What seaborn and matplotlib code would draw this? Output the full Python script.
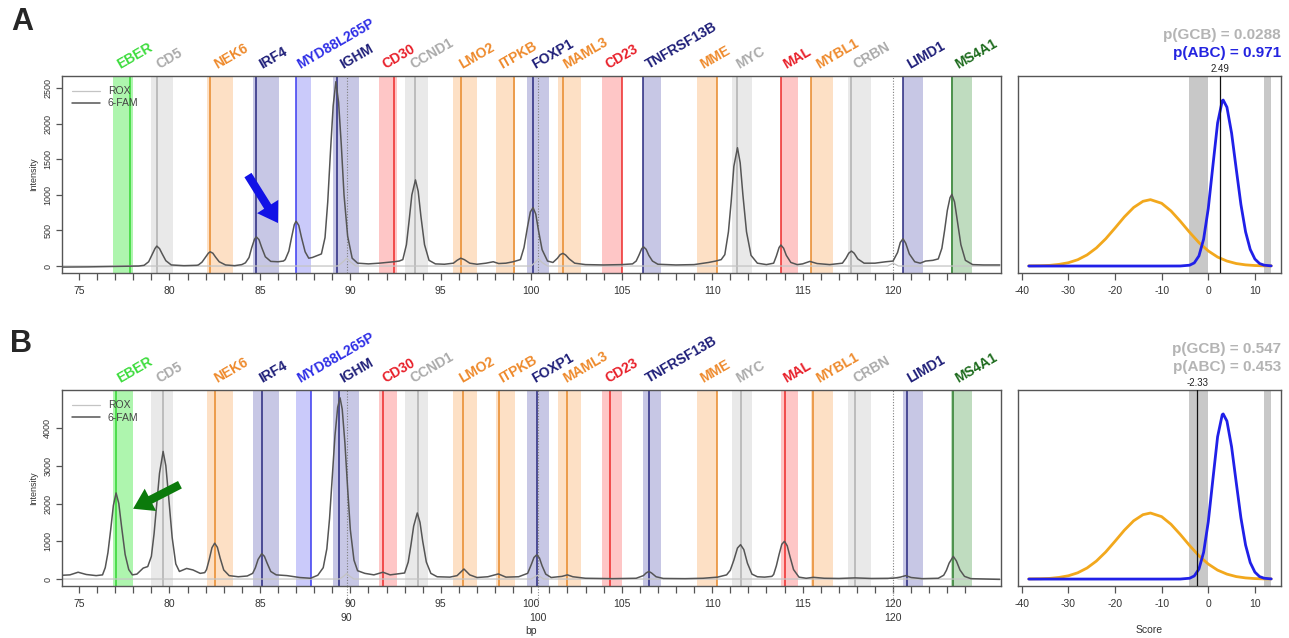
import matplotlib
matplotlib.use("Agg")
import matplotlib.pyplot as plt
import matplotlib.transforms as mtransforms
import pandas as pd
import seaborn as sns

sns.set_style("white")
plt.rcParams['font.family'] = ['Liberation Sans', 'DejaVu Sans']
plt.rcParams['axes.unicode_minus'] = False

# ---- markers of the assay: colour group, window (bp) and called position per sample
marker_names = ["EBER", "CD5", "NEK6", "IRF4", "MYD88L265P", "IGHM", "CD30", "CCND1",
                "LMO2", "ITPKB", "FOXP1", "MAML3", "CD23", "TNFRSF13B", "MME", "MYC",
                "MAL", "MYBL1", "CRBN", "LIMD1", "MS4A1"]
marker_group = ["ebv", "grey", "orange", "navy", "blue", "navy", "red", "grey",
                "orange", "orange", "navy", "orange", "red", "navy", "orange", "grey",
                "red", "orange", "grey", "navy", "green"]
band_lo = [76.9, 79.0, 82.1, 84.6, 87.0, 89.05, 91.6, 93.0, 95.7, 98.05, 99.75,
           101.5, 103.9, 106.2, 109.15, 111.1, 113.8, 115.45, 117.5, 120.55, 123.2]
band_hi = [78.0, 80.2, 83.5, 86.05, 87.8, 90.5, 92.6, 94.3, 97.0, 99.1, 101.0,
           102.75, 105.0, 107.2, 110.25, 112.2, 114.75, 116.7, 118.8, 121.65, 124.35]
line_a = [77.82, 79.3, 82.25, 84.8, 87.0, 89.25, 92.4, 93.6, 96.1, 99.05, 100.1,
          101.75, 105.0, 106.2, 110.25, 111.4, 113.8, 115.45, 117.7, 120.55, 123.25]
line_b = [77.05, 79.65, 82.5, 85.1, 87.8, 89.4, 91.8, 93.75, 96.25, 98.2, 100.3,
          102.0, 104.35, 106.5, 110.25, 111.6, 114.0, 115.6, 117.9, 120.75, 123.3]
rox_ref = [89.8, 100.35, 120.0]
rox_ref_labels = ["90", "100", "120"]

# ---- 6-FAM and ROX traces (bp, intensity)
fam_a = [(74.1, -15), (75.5, -12), (76.5, -8), (77.5, -5), (78.3, 0),
         (78.6, 10), (78.85, 60), (79.05, 165), (79.2, 245), (79.3, 280), (79.45, 245),
         (79.6, 170), (79.8, 75), (80.1, 15), (80.8, 5), (81.5, 10),
         (81.6, 15), (81.8, 55), (82.0, 125), (82.15, 180), (82.25, 200), (82.4, 180),
         (82.55, 125), (82.75, 60), (83.1, 15), (83.6, 5), (84.0, 20),
         (84.2, 45), (84.4, 120), (84.55, 260), (84.7, 375), (84.8, 410), (84.95, 370),
         (85.1, 260), (85.3, 130), (85.6, 65), (86.0, 60), (86.3, 70),
         (86.4, 90), (86.6, 210), (86.75, 400), (86.9, 580), (87.0, 630), (87.15, 570),
         (87.3, 400), (87.5, 200), (87.7, 110), (87.9, 120), (88.2, 150), (88.4, 170),
         (88.6, 400), (88.75, 900), (88.9, 1600), (89.05, 2250), (89.2, 2590), (89.35, 2300),
         (89.5, 1700), (89.65, 1000), (89.85, 420), (90.1, 110), (90.4, 40),
         (91.0, 30), (91.6, 40), (92.0, 50), (92.4, 60), (92.7, 70),
         (92.9, 90), (93.1, 300), (93.25, 640), (93.4, 1000), (93.6, 1210), (93.75, 1050),
         (93.9, 700), (94.1, 300), (94.35, 80), (94.7, 30),
         (95.2, 25), (95.7, 40), (95.9, 80), (96.1, 110), (96.3, 90), (96.6, 40),
         (97.0, 25), (97.5, 40), (97.9, 60), (98.2, 35), (98.6, 40), (99.0, 60),
         (99.4, 90), (99.6, 260), (99.8, 560), (99.95, 760), (100.1, 820), (100.25, 730),
         (100.4, 500), (100.6, 230), (100.9, 70), (101.2, 50),
         (101.45, 110), (101.6, 160), (101.75, 178), (101.9, 155), (102.1, 100), (102.4, 40),
         (103.0, 20), (104.0, 15), (105.0, 20), (105.6, 30),
         (105.8, 70), (105.95, 150), (106.1, 240), (106.2, 271), (106.35, 235), (106.5, 150),
         (106.7, 70), (107.0, 25), (108.0, 15), (109.0, 20), (109.8, 50), (110.2, 70), (110.5, 90),
         (110.7, 160), (110.9, 480), (111.05, 900), (111.2, 1400), (111.4, 1662), (111.55, 1450),
         (111.7, 1000), (111.9, 480), (112.15, 150), (112.5, 40), (113.0, 20), (113.4, 40),
         (113.55, 140), (113.7, 260), (113.8, 295), (113.95, 250), (114.1, 150), (114.35, 50),
         (114.7, 20), (115.0, 30), (115.4, 65), (115.8, 35), (116.5, 20), (117.2, 40),
         (117.4, 110), (117.55, 180), (117.7, 210), (117.85, 180), (118.05, 100), (118.4, 40),
         (119.0, 40), (119.6, 60), (120.0, 70),
         (120.25, 190), (120.4, 330), (120.55, 383), (120.7, 320), (120.9, 170), (121.2, 60),
         (121.5, 40), (121.8, 70), (122.2, 80), (122.5, 100),
         (122.7, 250), (122.85, 500), (123.0, 780), (123.15, 960), (123.25, 1007), (123.4, 900),
         (123.55, 640), (123.75, 300), (124.0, 80), (124.4, 20), (125.0, 15), (125.9, 15)]
rox_a = [(74.1, 0), (89.3, 0), (89.6, 60), (89.8, 110), (90.0, 60), (90.3, 0),
         (100.0, 0), (100.25, 60), (100.4, 100), (100.6, 50), (100.9, 0),
         (119.7, 0), (120.0, 40), (120.3, 0), (125.9, 0)]

fam_b = [(74.1, 100), (74.5, 110), (74.95, 180), (75.4, 120), (75.95, 90), (76.3, 110),
         (76.45, 300), (76.6, 700), (76.75, 1300), (76.9, 1950), (77.05, 2280), (77.2, 2000),
         (77.35, 1400), (77.55, 650), (77.75, 250), (77.95, 110),
         (78.2, 130), (78.55, 290), (78.8, 330),
         (79.0, 600), (79.15, 1200), (79.3, 2000), (79.45, 2800), (79.65, 3380), (79.8, 3000),
         (79.95, 2200), (80.15, 1100), (80.35, 400), (80.55, 200),
         (80.95, 280), (81.3, 240), (81.7, 150), (81.95, 170),
         (82.05, 250), (82.2, 520), (82.35, 830), (82.5, 950), (82.65, 840), (82.8, 560),
         (83.0, 240), (83.3, 90), (83.8, 60), (84.3, 80), (84.6, 150),
         (84.75, 300), (84.9, 520), (85.1, 670), (85.25, 600), (85.4, 420), (85.6, 200), (85.9, 110),
         (86.5, 90), (87.2, 40), (87.8, 20), (88.2, 100), (88.5, 300),
         (88.7, 800), (88.85, 1600), (89.0, 2700), (89.15, 3800), (89.3, 4550), (89.43, 4800),
         (89.55, 4500), (89.7, 3600), (89.85, 2400), (90.0, 1300), (90.2, 500), (90.4, 220),
         (90.8, 150), (91.3, 110), (91.8, 180), (92.2, 110),
         (93.0, 160), (93.2, 450), (93.35, 900), (93.5, 1400), (93.7, 1750), (93.85, 1500),
         (94.0, 1000), (94.2, 450), (94.45, 150), (94.8, 60),
         (95.5, 50), (95.9, 90), (96.28, 265), (96.6, 110), (97.0, 40), (97.6, 60), (98.18, 135),
         (98.6, 50), (99.3, 60),
         (99.8, 150), (100.0, 380), (100.15, 570), (100.3, 640), (100.45, 560), (100.6, 350),
         (100.8, 130), (101.1, 40), (101.7, 70), (102.0, 110), (102.3, 60), (103.0, 20),
         (104.5, 10), (105.8, 20), (106.2, 90), (106.35, 160), (106.5, 200), (106.65, 160),
         (106.9, 60), (107.3, 15), (108.5, 10), (109.5, 20), (110.3, 50), (110.8, 110),
         (111.0, 230), (111.2, 500), (111.4, 820), (111.57, 910), (111.75, 780), (111.95, 420),
         (112.2, 130), (112.5, 60), (112.9, 50), (113.3, 70),
         (113.4, 120), (113.55, 350), (113.7, 650), (113.85, 920), (114.0, 1000), (114.15, 880),
         (114.3, 600), (114.5, 250), (114.8, 50),
         (115.2, 20), (115.6, 45), (116.2, 20), (117.0, 15), (117.9, 30), (118.8, 15), (120.0, 20),
         (120.4, 50), (120.7, 90), (121.0, 40), (121.6, 10), (122.5, 20),
         (122.8, 100), (122.95, 230), (123.1, 420), (123.33, 600), (123.5, 480), (123.7, 240),
         (123.95, 70), (124.3, 10), (125.0, 0), (125.9, -10)]
rox_b = [(74.1, 0), (89.4, 0), (89.65, 80), (89.8, 150), (89.95, 80), (90.2, 0),
         (100.0, 0), (100.2, 60), (100.35, 100), (100.5, 60), (100.7, 0),
         (119.7, 0), (120.0, 60), (120.3, 0), (125.9, 0)]

# ---- class densities of the LPS score (GCB orange, ABC blue)
gcb_score = [-38.5, -36, -34, -32, -30, -28, -26, -24, -22, -20, -18, -16, -14, -12.4,
             -10, -8, -6, -4, -2, 0, 2, 4, 6, 8, 10, 12, 13.5]
gcb_dens = [0.001, 0.002, 0.004, 0.010, 0.020, 0.038, 0.067, 0.109, 0.164, 0.229, 0.296,
            0.353, 0.390, 0.400, 0.378, 0.332, 0.270, 0.203, 0.141, 0.091, 0.054, 0.030,
            0.015, 0.007, 0.003, 0.001, 0.001]
abc_score = [-38.5, -20, -10, -6, -4, -3, -2, -1, 0, 1, 2, 3, 3.2, 4, 5, 6, 7, 8, 9, 10,
             11, 12, 13.5]
abc_dens = [0.0, 0.0, 0.0, 0.0002, 0.005, 0.019, 0.061, 0.162, 0.347, 0.607, 0.862, 0.996,
            1.0, 0.957, 0.801, 0.584, 0.371, 0.206, 0.100, 0.042, 0.015, 0.005, 0.001]
grey_zones = [(-4.15, 0.0), (11.9, 13.45)]

score_a, score_b = 2.49, -2.33
p_gcb = ["0.0288", "0.547"]
p_abc = ["0.971", "0.453"]

# ---- styles
band_col = {"ebv": "#aef5ae", "grey": "#e9e9e9", "orange": "#fde0c5", "navy": "#c7c7e5",
            "blue": "#cacafa", "red": "#fec6c6", "green": "#bfdcbf"}
line_col = {"ebv": "#33d633", "grey": "#b0b0b0", "orange": "#e8892a", "navy": "#28287f",
            "blue": "#3c3cf0", "red": "#ee2a2a", "green": "#2e7d2e"}
label_col = {"ebv": "#3ddc3d", "grey": "#ababab", "orange": "#ee8a2c", "navy": "#1e1e78",
             "blue": "#2e2ee6", "red": "#e8202a", "green": "#1d6b1d"}
frame_col = "#555555"


def style_frame(ax):
    for s in ax.spines.values():
        s.set_color(frame_col)
        s.set_linewidth(1.0)
        s.set_visible(True)


def draw_trace_panel(ax, fam, rox, lines, ylim, yticks, arrow, show_bp):
    fam_df = pd.DataFrame(fam, columns=["bp", "intensity"])
    rox_df = pd.DataFrame(rox, columns=["bp", "intensity"])
    for lo, hi, grp in zip(band_lo, band_hi, marker_group):
        ax.axvspan(lo, hi, color=band_col[grp], lw=0, zorder=0)
    for x, grp in zip(lines, marker_group):
        ax.axvline(x, color=line_col[grp], lw=1.1, zorder=1)
    for x in rox_ref:
        ax.axvline(x, color="#808080", ls=(0, (1, 1.5)), lw=0.8, zorder=1)
    sns.lineplot(data=rox_df, x="bp", y="intensity", ax=ax, color="#c4c4c4", lw=0.9,
                 label="ROX", zorder=2)
    sns.lineplot(data=fam_df, x="bp", y="intensity", ax=ax, color="#555555", lw=1.1,
                 label="6-FAM", zorder=3)
    ax.legend(loc="upper left", frameon=False, fontsize=7.5, handlelength=2.6,
              borderaxespad=0.6, labelspacing=0.2, labelcolor="#444444")

    trans = mtransforms.blended_transform_factory(ax.transData, ax.transAxes)
    for name, grp, lo, hi in zip(marker_names, marker_group, band_lo, band_hi):
        ax.text((lo + hi) / 2 - 0.1, 1.02, name, transform=trans, rotation=30,
                rotation_mode="anchor", ha="left", va="bottom", fontsize=10,
                fontweight="bold", color=label_col[grp])

    ax.set_xlim(74.06, 125.97)
    ax.set_ylim(*ylim)
    ax.set_xticks(list(range(75, 125)))
    ax.set_xticklabels([str(t) if t % 5 == 0 else "" for t in range(75, 125)])
    ax.set_yticks(yticks)
    ax.set_yticklabels([str(t) for t in yticks], rotation=90, va="center")
    ax.tick_params(axis="x", length=5, width=0.9, color=frame_col, labelsize=7.5,
                   labelcolor="#333333", pad=4, bottom=True)
    ax.tick_params(axis="y", length=4, width=0.9, color=frame_col, labelsize=6.5,
                   labelcolor="#333333", pad=3, left=True)
    ax.set_xlabel("")
    ax.set_ylabel("Intensity", fontsize=6.5, color="#333333", labelpad=4)
    style_frame(ax)

    (tx, ty), (hx, hy), col = arrow
    ax.annotate("", xy=(hx, hy), xytext=(tx, ty),
                arrowprops=dict(arrowstyle="simple,head_width=1.8,head_length=1.4,tail_width=0.6",
                                color=col, lw=0, shrinkA=0, shrinkB=0, mutation_scale=10),
                zorder=5)

    if show_bp:
        for x, lab in zip(rox_ref, rox_ref_labels):
            ax.plot([x, x], [0, -0.09], transform=trans, clip_on=False, color="#909090",
                    ls=(0, (1, 1.5)), lw=0.8)
            ax.text(x, -0.165, lab, transform=trans, ha="center", va="center",
                    fontsize=7.5, color="#333333")
        ax.text(0.5, -0.23, "bp", transform=ax.transAxes, ha="center", va="center",
                fontsize=7.5, color="#333333")


def draw_score_panel(ax, score, pg, pa, pa_col, show_label):
    for lo, hi in grey_zones:
        ax.axvspan(lo, hi, color="#c8c8c8", lw=0, zorder=0)
    sns.lineplot(x=gcb_score, y=gcb_dens, ax=ax, color="#f2a81d", lw=2.0, zorder=2)
    sns.lineplot(x=abc_score, y=abc_dens, ax=ax, color="#2020e8", lw=2.0, zorder=3)
    ax.axvline(score, color="#111111", lw=0.9, zorder=4)
    trans = mtransforms.blended_transform_factory(ax.transData, ax.transAxes)
    ax.text(score, 1.01, f"{score:.2f}", transform=trans, ha="center", va="bottom",
            fontsize=7, color="#222222")
    ax.text(1.0, 1.21, f"p(GCB) = {pg}", transform=ax.transAxes, ha="right", va="center",
            fontsize=11, fontweight="bold", color="#b4b4b4")
    ax.text(1.0, 1.117, f"p(ABC) = {pa}", transform=ax.transAxes, ha="right", va="center",
            fontsize=11, fontweight="bold", color=pa_col)
    ax.set_xlim(-40.8, 15.6)
    ax.set_ylim(-0.042, 1.145)
    ax.set_xticks([-40, -30, -20, -10, 0, 10])
    ax.set_yticks([])
    ax.tick_params(axis="x", length=5, width=0.9, color=frame_col, labelsize=7.5,
                   labelcolor="#333333", pad=4, bottom=True)
    ax.set_xlabel("")
    ax.set_ylabel("")
    style_frame(ax)
    if show_label:
        ax.text(0.5, -0.224, "Score", transform=ax.transAxes, ha="center", va="center",
                fontsize=7.5, color="#333333")


fig = plt.figure(figsize=(12.89, 6.38), dpi=100)
ax_a = fig.add_axes([0.0481, 0.5721, 0.7285, 0.3088])
ax_a2 = fig.add_axes([0.7898, 0.5721, 0.2040, 0.3088])
ax_b = fig.add_axes([0.0481, 0.0815, 0.7285, 0.3072])
ax_b2 = fig.add_axes([0.7898, 0.0815, 0.2040, 0.3072])

draw_trace_panel(ax_a, fam_a, rox_a, line_a, (-98, 2670), [0, 500, 1000, 1500, 2000, 2500],
                 ((84.34, 1278), (86.0, 604), "#1212e6"), False)
draw_trace_panel(ax_b, fam_b, rox_b, line_b, (-185, 5007), [0, 1000, 2000, 3000, 4000],
                 ((80.58, 2498), (77.99, 1862), "#0b7a0b"), True)
draw_score_panel(ax_a2, score_a, p_gcb[0], p_abc[0], "#2424e0", False)
draw_score_panel(ax_b2, score_b, p_gcb[1], p_abc[1], "#b4b4b4", True)

fig.text(0.017, 0.9655, "A", fontsize=22, fontweight="bold", ha="center", va="center")
fig.text(0.016, 0.461, "B", fontsize=22, fontweight="bold", ha="center", va="center")

plt.savefig("out.png", dpi=100)
plt.close()
